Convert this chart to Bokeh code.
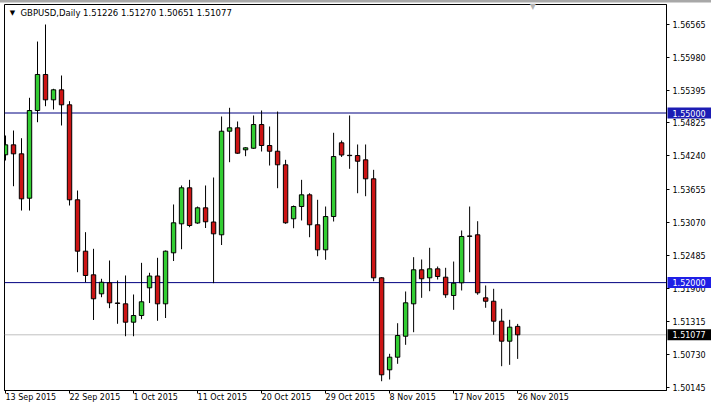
from bokeh.plotting import figure
from bokeh.models import FixedTicker, Span, Label, Range1d, ColumnDataSource, PrintfTickFormatter
from bokeh.core.properties import value
from bokeh.embed import file_html
from bokeh.resources import INLINE

symbol = "GBPUSD,Daily"
opens = [1.54261, 1.54437, 1.54278, 1.53493, 1.55044, 1.55681, 1.55233, 1.55410, 1.55145, 1.53465,
         1.52556, 1.52138, 1.51802, 1.51997, 1.51640, 1.51625, 1.51300, 1.51418, 1.51908, 1.52117,
         1.51625, 1.52527, 1.53040, 1.53677, 1.53054, 1.53323, 1.53072, 1.52846, 1.54678, 1.54738,
         1.54349, 1.54377, 1.54796, 1.54425, 1.54324, 1.54084, 1.53129, 1.53346, 1.53553, 1.53023,
         1.52580, 1.53169, 1.54473, 1.54252, 1.54248, 1.54172, 1.53836, 1.52085, 1.50458, 1.50681,
         1.51052, 1.51625, 1.52227, 1.52085, 1.52244, 1.52096, 1.51772, 1.51997, 1.52825, 1.52846,
         1.51731, 1.51671, 1.51318, 1.50964, 1.51226]
highs = [1.54602, 1.54690, 1.54554, 1.55269, 1.56264, 1.56565, 1.55428, 1.55663, 1.55209, 1.53629,
         1.52892, 1.52598, 1.52068, 1.52391, 1.52037, 1.52126, 1.51790, 1.52350, 1.52174, 1.52439,
         1.52568, 1.53382, 1.53718, 1.53818, 1.53346, 1.53718, 1.53859, 1.54938, 1.55092, 1.54850,
         1.54395, 1.54956, 1.55044, 1.54761, 1.55026, 1.54172, 1.53364, 1.53818, 1.53581, 1.53465,
         1.53346, 1.54650, 1.54513, 1.54956, 1.54443, 1.54443, 1.53995, 1.52095, 1.50741, 1.51282,
         1.51843, 1.52450, 1.52409, 1.52616, 1.52285, 1.52262, 1.52373, 1.52922, 1.53346, 1.53086,
         1.51949, 1.51891, 1.51537, 1.51342, 1.51270]
lows = [1.54160, 1.53705, 1.53275, 1.53275, 1.54837, 1.55120, 1.55062, 1.54779, 1.53364, 1.52184,
        1.52007, 1.51339, 1.51742, 1.51548, 1.51272, 1.51052, 1.51052, 1.51353, 1.51639, 1.51325,
        1.51374, 1.52382, 1.52591, 1.52980, 1.53040, 1.52966, 1.51990, 1.52665, 1.54130, 1.54278,
        1.54236, 1.54366, 1.54319, 1.54071, 1.53670, 1.53040, 1.52962, 1.53099, 1.52803, 1.52467,
        1.52404, 1.53081, 1.54222, 1.54013, 1.53581, 1.53528, 1.52025, 1.50256, 1.50287, 1.50564,
        1.50900, 1.51123, 1.51731, 1.51848, 1.52055, 1.51731, 1.51519, 1.51861, 1.52184, 1.51785,
        1.51555, 1.51077, 1.50522, 1.50546, 1.50651]
closes = [1.54437, 1.54278, 1.53482, 1.55044, 1.55681, 1.55233, 1.55410, 1.55145, 1.53465, 1.52556,
          1.52126, 1.51714, 1.52007, 1.51643, 1.51632, 1.51300, 1.51418, 1.51661, 1.52117, 1.51625,
          1.52556, 1.53058, 1.53677, 1.53010, 1.53323, 1.53076, 1.52863, 1.54678, 1.54738, 1.54289,
          1.54384, 1.54796, 1.54425, 1.54324, 1.54084, 1.53058, 1.53346, 1.53553, 1.53023, 1.52580,
          1.53169, 1.54230, 1.54257, 1.54246, 1.54147, 1.53836, 1.52085, 1.50370, 1.50681, 1.51065,
          1.51643, 1.52227, 1.52068, 1.52244, 1.52108, 1.51785, 1.51990, 1.52816, 1.52818, 1.51820,
          1.51671, 1.51318, 1.50964, 1.51212, 1.51077]

date_tick_bars = [0, 8, 16, 24, 32, 40, 48, 56, 64]
date_tick_labels = ["13 Sep 2015", "22 Sep 2015", "1 Oct 2015", "11 Oct 2015", "20 Oct 2015",
                    "29 Oct 2015", "8 Nov 2015", "17 Nov 2015", "26 Nov 2015"]
price_ticks = [1.50145, 1.50730, 1.51315, 1.51900, 1.52485, 1.53070, 1.53655, 1.54240,
               1.54825, 1.55395, 1.55980, 1.56565]
level_lines = [1.55000, 1.52000]
level_box_colors = ["#1c1cb4", "#1f1fe6"]
last_price = closes[-1]

FONT = "DejaVu Sans"
FS = "8px"
W, H = 711, 410
ML, MT, MR, MB = 4, 4, 45, 20
X0, X1 = -0.125, 82.6
Y0, Y1 = 1.50092, 1.56919
frame_w = W - ML - MR
px_per_bar = frame_w / (X1 - X0)
px_per_price = (H - MT - MB) / (Y1 - Y0)

bars = list(range(len(opens)))
src = ColumnDataSource(dict(
    x=bars, h=highs, l=lows,
    top=[max(o, c) for o, c in zip(opens, closes)],
    bottom=[min(o, c) for o, c in zip(opens, closes)],
    color=["#32cd32" if c > o else "#cc1414" for o, c in zip(opens, closes)],
))

p = figure(width=W, height=H, x_range=Range1d(X0, X1), y_range=Range1d(Y0, Y1),
           output_backend="svg", toolbar_location=None, y_axis_location="right",
           min_border_left=ML, min_border_top=MT, min_border_right=MR, min_border_bottom=MB)
p.grid.visible = False
p.outline_line_color = "black"
p.outline_line_width = 1

for lv in level_lines:
    p.add_layout(Span(location=lv, dimension="width", line_color="#000080", line_width=1, level="underlay"))
p.add_layout(Span(location=last_price, dimension="width", line_color="#c0c0c0", line_width=1, level="underlay"))

p.segment(x0="x", y0="h", x1="x", y1="l", source=src, line_color="black", line_width=1)
p.vbar(x="x", width=0.55, top="top", bottom="bottom", fill_color="color", line_color="black",
       line_width=1, source=src)

xa = p.xaxis[0]
xa.ticker = FixedTicker(ticks=date_tick_bars)
xa.major_label_overrides = {b: s for b, s in zip(date_tick_bars, date_tick_labels)}
xa.major_label_orientation = -1e-6   # tiny angle -> labels left-aligned at the tick
xa.major_label_text_font = FONT
xa.major_label_text_font_size = FS
xa.major_label_text_color = "black"
xa.major_label_standoff = 4
xa.major_tick_in = 0
xa.major_tick_out = 3
xa.minor_tick_line_color = None
xa.axis_line_color = "black"

ya = p.yaxis[0]
ya.ticker = FixedTicker(ticks=price_ticks)
ya.formatter = PrintfTickFormatter(format="%.5f")
ya.major_label_text_font = FONT
ya.major_label_text_font_size = FS
ya.major_label_text_color = "black"
ya.major_tick_in = 0
ya.major_tick_out = 3
ya.minor_tick_line_color = None
ya.axis_line_color = "black"
ya.major_label_standoff = 3

# thin grey window strip along the very top
p.quad(left=[X0 - (ML + 1) / px_per_bar], right=[X1 + (MR + 2) / px_per_bar],
       bottom=[Y1 + 2 / px_per_price], top=[Y1 + 5 / px_per_price],
       fill_color="#a8a8a8", line_color=None, level="overlay")

# price boxes drawn over the right-hand axis (overlay level is not clipped to the frame)
box_prices = level_lines + [last_price]
box_colors = level_box_colors + ["black"]
half_h = 5.5 / px_per_price
bx0 = X1 + 1 / px_per_bar
bx1 = X1 + (MR + 2) / px_per_bar
bsrc = ColumnDataSource(dict(
    left=[bx0] * 3, right=[bx1] * 3,
    bottom=[v - half_h for v in box_prices], top=[v + half_h for v in box_prices],
    color=box_colors, tx=[X1 + 6 / px_per_bar] * 3, ty=box_prices,
    txt=[f"{v:.5f}" for v in box_prices],
))
p.quad(left="left", right="right", bottom="bottom", top="top", fill_color="color", line_color=None,
       source=bsrc, level="overlay")
p.text(x="tx", y="ty", text="txt", source=bsrc, text_color="white", text_font=value(FONT),
       text_font_size=value(FS), text_baseline="middle", text_align="left", level="overlay")

header = f"{symbol}  {opens[-1]:.5f} {highs[-1]:.5f} {lows[-1]:.5f} {closes[-1]:.5f}"
hy = Y1 - 8 / px_per_price
p.add_layout(Label(x=8, y=hy, x_units="screen", y_units="data", text="\u25BC",
                   text_font=FONT, text_font_size="7px", text_color="black", text_align="center",
                   text_baseline="middle"))
p.add_layout(Label(x=16, y=hy, x_units="screen", y_units="data", text=header,
                   text_font=FONT, text_font_size="8.5px", text_color="black", text_baseline="middle"))
p.text(x=[65.9], y=[Y1 - 1.5 / px_per_price], text=["\u25BC"], text_color="#b4b4b4",
       text_font=value(FONT), text_font_size=value("8px"), text_align="center",
       text_baseline="middle", level="overlay")

open("out.html", "w").write(file_html(p, INLINE))
